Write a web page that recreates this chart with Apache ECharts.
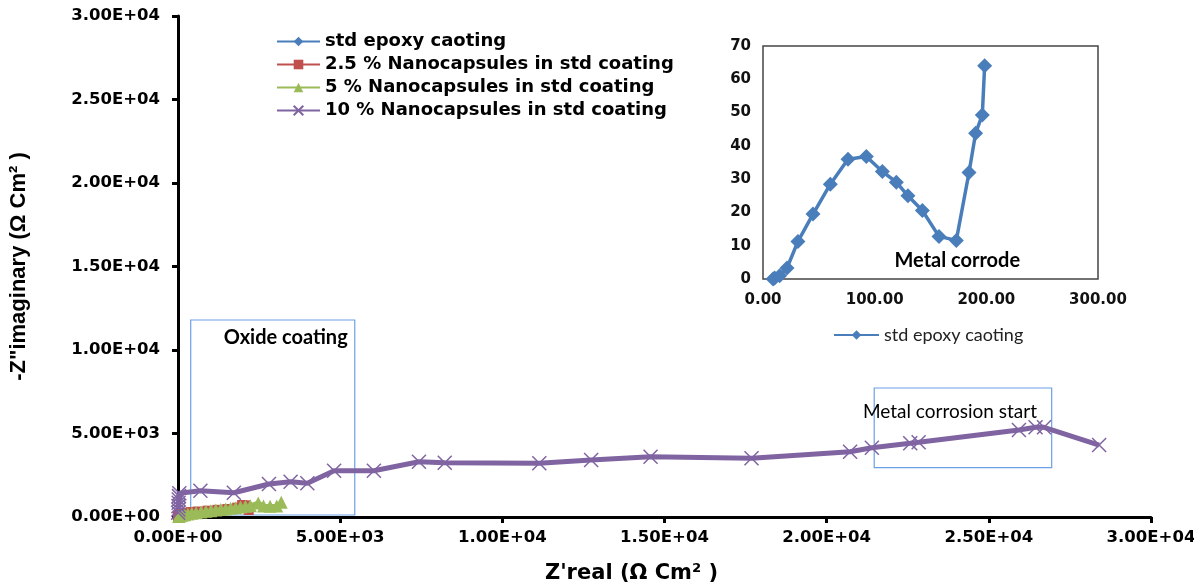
<!DOCTYPE html>
<html><head><meta charset="utf-8">
<script src="https://cdn.jsdelivr.net/npm/echarts@6/dist/echarts.min.js"></script>
<style>html,body{margin:0;padding:0;background:#fff}#c{width:1194px;height:583px}</style>
</head><body><div id="c"></div>
<script>
// ---- data ----
const seriesNames = ['std epoxy caoting', '2.5 % Nanocapsules in std coating', '5 % Nanocapsules in std coating', '10 % Nanocapsules in std coating'];
const stdX = [9, 10.4, 14.9, 21.5, 31.3, 44.8, 60.3, 76.1, 92.5, 106.9, 119.4, 129.8, 142.7, 157.6, 173.1, 184.5, 190.4, 196.4, 198.5];
const stdY = [0, 0.3, 1, 3.3, 11.3, 19.5, 28.5, 36, 36.8, 32.3, 29.1, 25, 20.6, 12.8, 11.6, 32, 43.8, 49.3, 64.1];
const np25X = [0, 30, 81, 152, 254, 406, 608, 913, 1217, 1521, 1825, 1977, 2079, 2180];
const np25Y = [10, 80, 150, 200, 260, 300, 330, 380, 430, 480, 560, 720, 700, 420];
const np5X = [20, 61, 122, 203, 304, 426, 558, 710, 862, 1014, 1166, 1318, 1470, 1622, 1775, 1927, 2079, 2231, 2474, 2636, 2839, 3042, 3184];
const np5Y = [30, 60, 100, 140, 180, 220, 260, 300, 340, 380, 420, 450, 480, 520, 560, 600, 640, 680, 838, 660, 650, 660, 880];
const np10X = [5, 10, 15, 20, 25, 30, 40, 690, 1722, 2804, 3472, 3988, 4813, 6039, 7429, 8224, 11140, 12737, 14570, 17683, 20722, 21393, 22577, 22836, 25928, 26441, 26701, 28401];
const np10Y = [250, 450, 650, 850, 1050, 1250, 1420, 1575, 1455, 1976, 2114, 2018, 2772, 2772, 3311, 3252, 3216, 3413, 3611, 3515, 3910, 4150, 4413, 4473, 5210, 5371, 5371, 4311];
const boxOxide = { text: 'Oxide coating', x: [392, 5450], y: [120, 11796] };
const boxCorrosion = { text: 'Metal corrosion start', x: [21466, 26938], y: [2952, 7725] };
const insetNote = { text: 'Metal corrode', x: 174, y: 5.5 };
const xAxisName = "Z'real (\u03A9 Cm\u00B2 )";
const yAxisName = '-Z"imaginary (\u03A9 Cm\u00B2 )';

const zip = (xs, ys) => xs.map((x, i) => [x, ys[i]]);
const sci = v => {
  const [m, e] = v.toExponential(2).split('e');
  const n = parseInt(e, 10);
  return m + 'E' + (n < 0 ? '-' : '+') + String(Math.abs(n)).padStart(2, '0');
};
const colors = ['#4A7EBB', '#C0504D', '#9BBB59', '#8064A2'];
const xSym = 'path://M0,0L10,10M10,0L0,10';
const mainLbl = { fontFamily: 'DejaVu Sans', fontWeight: 'bold', fontSize: 16.5, color: '#000' };
const insetLbl = { fontFamily: 'DejaVu Sans', fontWeight: 'bold', fontSize: 15, color: '#111' };

const chart = echarts.init(document.getElementById('c'));
chart.setOption({
  animation: false,
  backgroundColor: '#fff',
  grid: [
    { left: 178, right: 43, top: 16, bottom: 66, outerBoundsMode: 'none' },
    { left: 763, top: 46, width: 335, height: 233, show: true, borderColor: '#444', borderWidth: 1.5,
      backgroundColor: 'transparent', outerBoundsMode: 'none' }
  ],
  legend: [
    { data: seriesNames, left: 276, top: 32, padding: 0, orient: 'vertical', itemWidth: 43, itemHeight: 12, itemGap: 4,
      textStyle: { fontFamily: 'DejaVu Sans', fontWeight: 'bold', fontSize: 18, color: '#000', lineHeight: 19 } },
    { data: [seriesNames[0]], left: 833, top: 326, padding: 0, itemWidth: 45, itemHeight: 12,
      textStyle: { fontFamily: 'Lato', fontSize: 18, color: '#222' } }
  ],
  xAxis: [
    { type: 'value', gridIndex: 0, min: 0, max: 30000, interval: 5000,
      name: xAxisName, nameLocation: 'middle', nameGap: 46,
      nameTextStyle: { fontFamily: 'DejaVu Sans', fontWeight: 'bold', fontSize: 21, color: '#000', padding: [0, 66, 0, 0] },
      axisLine: { lineStyle: { color: '#000', width: 3 } },
      axisTick: { length: 6, lineStyle: { color: '#000', width: 3 } },
      axisLabel: Object.assign({ formatter: sci, margin: 12 }, mainLbl),
      splitLine: { show: false } },
    { type: 'value', gridIndex: 1, min: 0, max: 300, interval: 100,
      axisLine: { show: false }, axisTick: { show: false },
      axisLabel: Object.assign({ formatter: v => v.toFixed(2), margin: 14 }, insetLbl),
      splitLine: { show: false } }
  ],
  yAxis: [
    { type: 'value', gridIndex: 0, min: 0, max: 30000, interval: 5000,
      name: yAxisName, nameLocation: 'middle', nameGap: 148, nameRotate: 90,
      nameTextStyle: { fontFamily: 'Liberation Sans', fontWeight: 'bold', fontSize: 22, color: '#000' },
      axisLine: { show: true, lineStyle: { color: '#000', width: 3 } },
      axisTick: { show: true, length: 6, lineStyle: { color: '#000', width: 3 } },
      axisLabel: Object.assign({ formatter: sci, margin: 18 }, mainLbl),
      splitLine: { show: false } },
    { type: 'value', gridIndex: 1, min: 0, max: 70, interval: 10,
      axisLine: { show: false }, axisTick: { show: false },
      axisLabel: Object.assign({ margin: 12 }, insetLbl),
      splitLine: { show: false } }
  ],
  series: [
    { name: seriesNames[0], type: 'line', xAxisIndex: 0, yAxisIndex: 0, data: zip(stdX, stdY),
      color: colors[0], symbol: 'diamond', symbolSize: 10, lineStyle: { width: 3 } },
    { name: seriesNames[1], type: 'line', data: zip(np25X, np25Y),
      color: colors[1], symbol: 'rect', symbolSize: 10, lineStyle: { width: 4 } },
    { name: seriesNames[2], type: 'line', data: zip(np5X, np5Y),
      color: colors[2], symbol: 'triangle', symbolSize: 13, lineStyle: { width: 4.5 } },
    { name: seriesNames[3], type: 'line', data: zip(np10X, np10Y),
      color: colors[3], symbol: xSym, symbolSize: 14,
      itemStyle: { color: 'none', borderColor: colors[3], borderWidth: 1.5 },
      lineStyle: { width: 5, color: colors[3] },
      markArea: {
        silent: true,
        itemStyle: { color: 'rgba(0,0,0,0)', borderColor: '#6CA0E6', borderWidth: 1.2 },
        label: { position: 'insideTop', color: '#000', fontFamily: 'Lato' },
        data: [
          [{ name: boxOxide.text, xAxis: boxOxide.x[0], yAxis: boxOxide.y[1],
             label: { fontWeight: 'bold', fontSize: 20, offset: [13, 3] } },
           { xAxis: boxOxide.x[1], yAxis: boxOxide.y[0] }],
          [{ name: boxCorrosion.text, xAxis: boxCorrosion.x[0], yAxis: boxCorrosion.y[1],
             label: { fontSize: 19, offset: [-13, 10] } },
           { xAxis: boxCorrosion.x[1], yAxis: boxCorrosion.y[0] }]
        ]
      } },
    { name: seriesNames[0], type: 'line', xAxisIndex: 1, yAxisIndex: 1, data: zip(stdX, stdY),
      color: colors[0], symbol: 'diamond', symbolSize: 15, lineStyle: { width: 3.5 },
      markPoint: {
        symbol: 'circle', symbolSize: 0,
        label: { show: true, formatter: insetNote.text, fontFamily: 'Lato', fontWeight: 'bold', fontSize: 20, color: '#000' },
        data: [{ coord: [insetNote.x, insetNote.y] }]
      } }
  ]
});
</script></body></html>
